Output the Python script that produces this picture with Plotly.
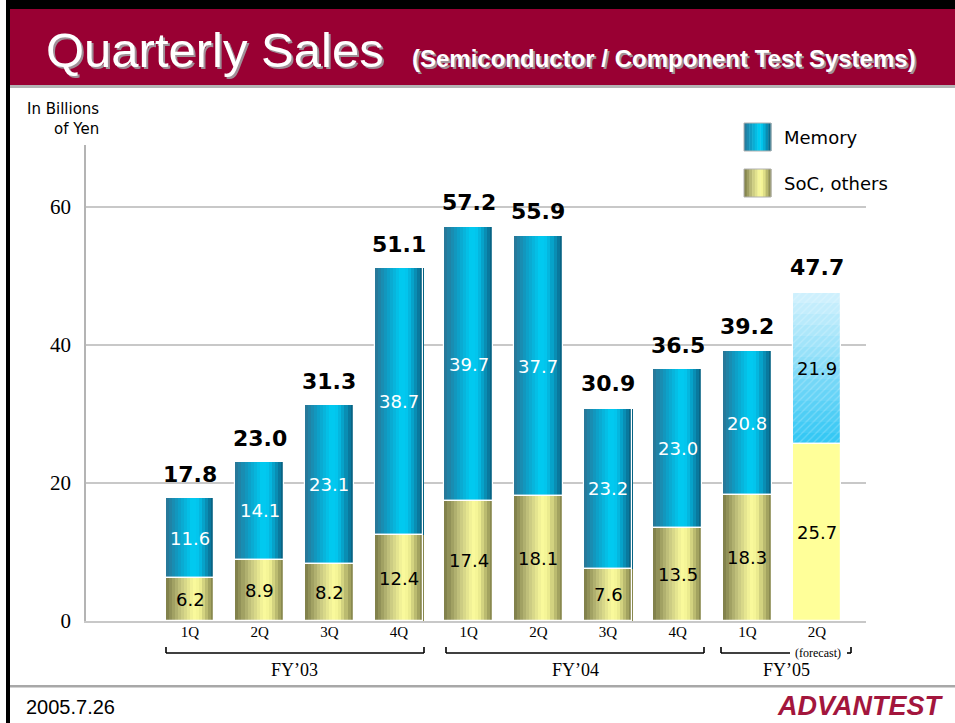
import plotly.graph_objects as go

# ---------------- data ----------------
quarters = ["1Q", "2Q", "3Q", "4Q", "1Q", "2Q", "3Q", "4Q", "1Q", "2Q"]
memory = [11.6, 14.1, 23.1, 38.7, 39.7, 37.7, 23.2, 23.0, 20.8, 21.9]
soc_others = [6.2, 8.9, 8.2, 12.4, 17.4, 18.1, 7.6, 13.5, 18.3, 25.7]
totals = [17.8, 23.0, 31.3, 51.1, 57.2, 55.9, 30.9, 36.5, 39.2, 47.7]
fiscal_years = ["FY\u201903", "FY\u201904", "FY\u201905"]
y_ticks = [0, 20, 40, 60]

# ---------------- geometry helpers ----------------
W, H = 955, 723
L, R, T, B = 86, 866, 145, 621           # plot area in pixels
X0_PX, STEP_PX = 190.0, 69.67             # bar centres
XMIN = -(X0_PX - L) / STEP_PX
XMAX = 9 + (R - (X0_PX + 9 * STEP_PX)) / STEP_PX
YMAX = 69.0
BW = 0.696


def PX(x):
    return (x - L) / (R - L)


def PY(y):
    return (B - y) / (B - T)


def DX(px):
    return (px - X0_PX) / STEP_PX


def hexrgb(h):
    h = h.lstrip("#")
    return tuple(int(h[i:i + 2], 16) for i in (0, 2, 4))


def interp(stops, t):
    for (t0, c0), (t1, c1) in zip(stops, stops[1:]):
        if t0 <= t <= t1:
            f = 0 if t1 == t0 else (t - t0) / (t1 - t0)
            a, b = hexrgb(c0), hexrgb(c1)
            return "rgb(%d,%d,%d)" % tuple(round(a[i] + (b[i] - a[i]) * f) for i in range(3))
    return "rgb(%d,%d,%d)" % hexrgb(stops[-1][1])


MEM_STOPS = [(0.0, "#2a7494"), (0.25, "#0f9cc4"), (0.55, "#00ccf2"), (0.68, "#02c4ec"),
             (0.88, "#0a82a8"), (1.0, "#065a78")]
SOC_STOPS = [(0.0, "#7a7a46"), (0.3, "#c4c47e"), (0.58, "#fafa9c"), (0.7, "#f2f294"),
             (0.9, "#a6a662"), (1.0, "#7c7c46")]

fig = go.Figure()

N = 16
n_act = 9
idx = list(range(len(quarters)))
sw = BW / N
for k in range(N):
    t = (k + 0.5) / N
    off = -BW / 2 + k * sw
    fig.add_trace(go.Bar(x=idx[:n_act], y=soc_others[:n_act], base=[0] * n_act,
                         width=sw * 1.08, offset=off, marker=dict(color=interp(SOC_STOPS, t), line=dict(width=0)),
                         showlegend=False, hoverinfo="skip"))
    fig.add_trace(go.Bar(x=idx[:n_act], y=memory[:n_act], base=soc_others[:n_act],
                         width=sw * 1.08, offset=off, marker=dict(color=interp(MEM_STOPS, t), line=dict(width=0)),
                         showlegend=False, hoverinfo="skip"))

# forecast bar
fig.add_trace(go.Bar(x=[idx[9]], y=[soc_others[9]], base=[0], width=BW,
                     marker=dict(color="#ffff99", line=dict(width=0)), showlegend=False, hoverinfo="skip"))
M = 14
FC_STOPS = [(0.0, "#30c6f4"), (0.5, "#86dcf8"), (1.0, "#d4f2fd")]
for j in range(M):
    fig.add_trace(go.Bar(x=[idx[9]], y=[memory[9] / M * 1.02], base=[soc_others[9] + j * memory[9] / M],
                         width=BW, marker=dict(color=interp(FC_STOPS, (j + 0.5) / M), line=dict(width=0)),
                         showlegend=False, hoverinfo="skip"))
fig.add_trace(go.Bar(x=[idx[9]], y=[memory[9]], base=[soc_others[9]], width=BW,
                     marker=dict(color="rgba(0,0,0,0)", line=dict(width=0),
                                 pattern=dict(shape="/", fgcolor="rgba(255,255,255,0.45)", size=5,
                                              solidity=0.25, fillmode="overlay")),
                     showlegend=False, hoverinfo="skip"))

# outlines (white seams)
fig.add_trace(go.Bar(x=idx, y=soc_others, base=[0] * 10, width=BW,
                     marker=dict(color="rgba(0,0,0,0)", line=dict(color="white", width=1.2)),
                     showlegend=False, hoverinfo="skip"))
fig.add_trace(go.Bar(x=idx, y=memory, base=soc_others, width=BW,
                     marker=dict(color="rgba(0,0,0,0)", line=dict(color="white", width=1.2)),
                     showlegend=False, hoverinfo="skip"))

ann = []
shapes = []
VFONT = "DejaVu Sans"
for i in idx:
    ann.append(dict(x=i, y=soc_others[i] / 2, xref="x", yref="y", text="%.1f" % soc_others[i],
                    showarrow=False, font=dict(family=VFONT, size=18, color="black")))
    ann.append(dict(x=i, y=soc_others[i] + memory[i] / 2, xref="x", yref="y", text="%.1f" % memory[i],
                    showarrow=False, font=dict(family=VFONT, size=18, color="black" if i == 9 else "white")))
    ann.append(dict(x=i, y=totals[i], xref="x", yref="y", text="<b>%.1f</b>" % totals[i], yshift=24,
                    showarrow=False, font=dict(family=VFONT, size=22, color="black")))

# fiscal-year brackets
SER = "Liberation Serif"
yb, yt = PY(653), PY(647)
brackets = [(166, 424), (446, 704), (721, 790), (847, 851)]
for a, b in brackets:
    shapes.append(dict(type="line", xref="x", yref="paper", x0=DX(a), x1=DX(b), y0=yb, y1=yb,
                       line=dict(color="black", width=1.6)))
for px in (166, 424, 446, 704, 721, 851):
    shapes.append(dict(type="line", xref="x", yref="paper", x0=DX(px), x1=DX(px), y0=yb, y1=yt,
                       line=dict(color="black", width=1.6)))
for txt, px in zip(fiscal_years, (294, 575, 786)):
    ann.append(dict(x=PX(px), y=PY(670), xref="paper", yref="paper", text=txt, showarrow=False,
                    xanchor="center", yanchor="middle",
                    font=dict(family=SER, size=18, color="black")))
ann.append(dict(x=PX(818), y=PY(653), xref="paper", yref="paper", text="(forecast)", showarrow=False,
                xanchor="center", yanchor="middle",
                font=dict(family=SER, size=12, color="black")))

# header / frame
shapes += [
    dict(type="rect", xref="paper", yref="paper", x0=PX(10), x1=PX(956), y0=PY(9), y1=PY(85),
         fillcolor="#990033", line=dict(width=0), layer="below"),
    dict(type="rect", xref="paper", yref="paper", x0=PX(10), x1=PX(956), y0=PY(85), y1=PY(88),
         fillcolor="#b4b4b4", line=dict(width=0), layer="below"),
    dict(type="rect", xref="paper", yref="paper", x0=PX(6), x1=PX(956), y0=PY(0), y1=PY(9),
         fillcolor="black", line=dict(width=0), layer="below"),
    dict(type="rect", xref="paper", yref="paper", x0=PX(6), x1=PX(10), y0=PY(0), y1=PY(724),
         fillcolor="black", line=dict(width=0), layer="below"),
    dict(type="rect", xref="paper", yref="paper", x0=PX(10), x1=PX(956), y0=PY(685), y1=PY(687.5),
         fillcolor="#a8a8a8", line=dict(width=0), layer="below"),
]

TF = "Liberation Sans"
for dx, dy, col in ((2, 2, "#a09098"), (0, 0, "white")):
    ann.append(dict(x=PX(44 + dx), y=PY(50 + dy), xref="paper", yref="paper", xanchor="left",
                    yanchor="middle", text="Quarterly Sales", showarrow=False,
                    font=dict(family=TF, size=49, color=col)))
    ann.append(dict(x=PX(410 + dx), y=PY(59 + dy), xref="paper", yref="paper", xanchor="left",
                    yanchor="middle", text="<b>(Semiconductor / Component Test Systems)</b>", showarrow=False,
                    font=dict(family=TF, size=24, color=col)))

ann.append(dict(x=PX(101), y=PY(119), xref="paper", yref="paper", xanchor="right", yanchor="middle",
                align="right", text="In Billions<br>of Yen", showarrow=False,
                font=dict(family=VFONT, size=15, color="black")))

# legend
for (y0, stops, label) in ((123, MEM_STOPS, "Memory"), (169, SOC_STOPS, "SoC, others")):
    ns = 10
    for k in range(ns):
        x0 = 744 + k * 27 / ns
        shapes.append(dict(type="rect", xref="paper", yref="paper", x0=PX(x0), x1=PX(x0 + 27 / ns + 0.4),
                           y0=PY(y0), y1=PY(y0 + 28), fillcolor=interp(stops, (k + 0.5) / ns),
                           line=dict(width=0)))
    shapes.append(dict(type="rect", xref="paper", yref="paper", x0=PX(744), x1=PX(771),
                       y0=PY(y0), y1=PY(y0 + 28), line=dict(color="#b0b0b0", width=1)))
    ann.append(dict(x=PX(782), y=PY(y0 + 14), xref="paper", yref="paper", xanchor="left",
                    yanchor="middle", text=label, showarrow=False,
                    font=dict(family=VFONT, size=18, color="black")))

# footer
ann.append(dict(x=PX(24), y=PY(707), xref="paper", yref="paper", xanchor="left", yanchor="middle",
                text="2005.7.26", showarrow=False, font=dict(family=TF, size=20, color="black")))
ann.append(dict(x=PX(946), y=PY(706), xref="paper", yref="paper", xanchor="right", yanchor="middle",
                text="<b><i>ADVANTEST</i></b>", showarrow=False,
                font=dict(family=TF, size=27, color="#a3163d")))

fig.update_layout(
    width=W, height=H, barmode="overlay", bargap=0,
    margin=dict(l=L, r=W - R, t=T, b=H - B, autoexpand=False),
    paper_bgcolor="white", plot_bgcolor="white",
    showlegend=False,
    annotations=ann, shapes=shapes,
    xaxis=dict(range=[XMIN, XMAX], tickvals=idx, ticktext=quarters, showgrid=False, zeroline=False,
               showline=True, linecolor="#c8c8c8", linewidth=1.5, ticks="",
               ticklabelstandoff=-4,
               tickfont=dict(family=SER, size=15, color="black")),
    yaxis=dict(range=[0, YMAX], tickvals=y_ticks, showgrid=True, gridcolor="#c8c8c8", gridwidth=1.5,
               zeroline=False, showline=True, linecolor="#b4b4b4", linewidth=1.5, ticks="",
               ticklabelstandoff=9, tickfont=dict(family=SER, size=21, color="black")),
)

fig.write_html("out.html", config={"displayModeBar": False},
               post_script="document.body.style.margin='0';document.body.style.overflow='hidden';")
